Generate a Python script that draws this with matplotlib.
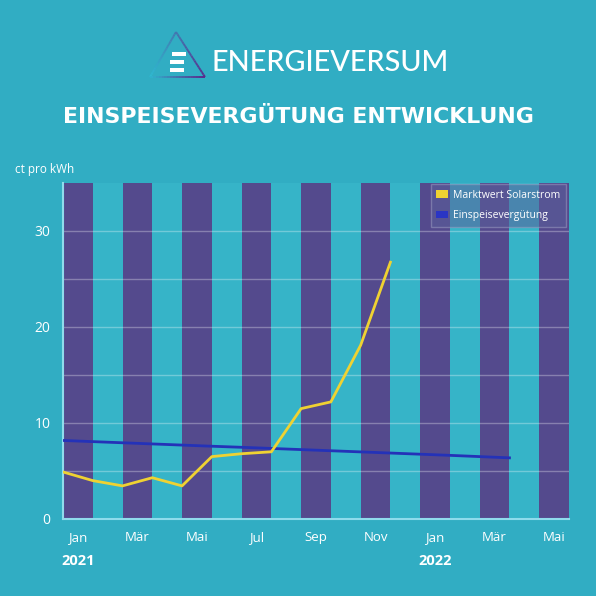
import numpy as np
import matplotlib
matplotlib.use('Agg')
import matplotlib.pyplot as plt
from matplotlib.patches import Patch
from matplotlib.collections import LineCollection

# Data (ct pro kWh), monthly from Jan 2021
months = ['Jan', 'Feb', 'Mär', 'Apr', 'Mai', 'Jun', 'Jul', 'Aug', 'Sep', 'Okt', 'Nov', 'Dez',
          'Jan', 'Feb', 'Mär', 'Apr', 'Mai']
years = ['2021', '2022']
year_start = [0, 12]
marktwert = [4.9, 4.0, 3.45, 4.3, 3.45, 6.5, 6.8, 7.0, 11.5, 12.2, 18.1, 26.75]
einspeise = [8.18, 8.06, 7.94, 7.82, 7.70, 7.58, 7.47, 7.35, 7.23, 7.11, 6.99, 6.87,
             6.75, 6.63, 6.50, 6.37]

BG = '#31adc3'
PLOT_BG = '#36b4c8'
BAND = '#544a8d'
YELLOW = '#efd232'
BLUE = '#2432b8'
FONT = 'Open Sans'

fig = plt.figure(figsize=(5.96, 5.96), dpi=100, facecolor=BG)

# logo + header texts, in pixel coords
lax = fig.add_axes([0, 0, 1, 1], facecolor='none')
lax.set_xlim(0, 596)
lax.set_ylim(596, 0)
lax.axis('off')
tri = [(150, 77), (176, 32), (205, 77), (150, 77)]
segs, cols = [], []
c1 = np.array([0x2f, 0xb8, 0xd0]) / 255
c2 = np.array([0x5a, 0x2c, 0x8c]) / 255
for a, b in zip(tri[:-1], tri[1:]):
    ts = np.linspace(0, 1, 20)
    for t0, t1 in zip(ts[:-1], ts[1:]):
        p0 = (a[0] + (b[0] - a[0]) * t0, a[1] + (b[1] - a[1]) * t0)
        p1 = (a[0] + (b[0] - a[0]) * t1, a[1] + (b[1] - a[1]) * t1)
        segs.append([p0, p1])
        f = min(1, max(0, (p0[0] - 150) / 55))
        cols.append(c1 * (1 - f) + c2 * f)
lax.add_collection(LineCollection(segs, colors=cols, linewidths=1.4))
for yb in (54, 62, 70):
    lax.add_patch(plt.Rectangle((170 if yb != 54 else 172, yb - 2), 14, 4, color='white', lw=0))
lax.text(211, 63, 'ENERGIEVERSUM', color='white', fontsize=20.8, family='Lato',
         fontweight='medium', va='center', ha='left')
lax.text(298, 117, 'EINSPEISEVERGÜTUNG ENTWICKLUNG', color='white', fontsize=15.8,
         family='DejaVu Sans', fontweight='bold', va='center', ha='center')
lax.text(15, 169, 'ct pro kWh', color='white', fontsize=8.5, family=FONT, va='center', ha='left')

# chart
ax = fig.add_axes([63 / 596, 1 - 519 / 596, 506 / 596, 336 / 596], facecolor=PLOT_BG)
n = len(months)
for i in range(0, n, 2):
    ax.axvspan(i, i + 1, color=BAND, lw=0, zorder=1)
for yv in np.arange(5, 35, 5):
    ax.axhline(yv, color='white', alpha=0.3, lw=1, zorder=2)

ax.plot(np.arange(len(einspeise)), einspeise, color=BLUE, lw=2, zorder=4)
ax.plot(np.arange(len(marktwert)), marktwert, color=YELLOW, lw=2, zorder=5)

ax.set_xlim(0, n)
ax.set_ylim(0, 35)
ax.set_yticks([0, 10, 20, 30])
ax.set_xticks(np.arange(0, n, 2) + 0.5)
ax.set_xticklabels(months[::2])
ax.tick_params(axis='x', length=0, colors='white', labelsize=9.5, pad=8.5)
ax.tick_params(axis='y', length=0, colors='white', labelsize=10, pad=9)
for lab in ax.get_xticklabels() + ax.get_yticklabels():
    lab.set_family(FONT)
for s in ['top', 'right']:
    ax.spines[s].set_visible(False)
for s in ['left', 'bottom']:
    ax.spines[s].set_color('#8fdcec')
    ax.spines[s].set_linewidth(1.5)

for yr, st in zip(years, year_start):
    ax.text(st + 0.5, -0.125, yr, transform=ax.get_xaxis_transform(), color='white',
            fontsize=10.5, fontweight='bold', family=FONT, ha='center', va='center')

handles = [Patch(facecolor=YELLOW, edgecolor='none', label='Marktwert Solarstrom'),
           Patch(facecolor='#2a35c4', edgecolor='none', label='Einspeisevergütung')]
leg = ax.legend(handles=handles, loc='upper right', bbox_to_anchor=(0.994, 0.997),
                frameon=True, fancybox=False, handlelength=1.15, handleheight=0.7,
                borderpad=0.55, labelspacing=0.9, handletextpad=0.45, borderaxespad=0,
                prop={'family': FONT, 'size': 7.5})
leg.get_frame().set_facecolor('#5a5f9a')
leg.get_frame().set_alpha(0.55)
leg.get_frame().set_edgecolor('#9a9ac0')
for t in leg.get_texts():
    t.set_color('white')
leg.set_zorder(10)

fig.savefig('out.png', dpi=100, facecolor=BG)
